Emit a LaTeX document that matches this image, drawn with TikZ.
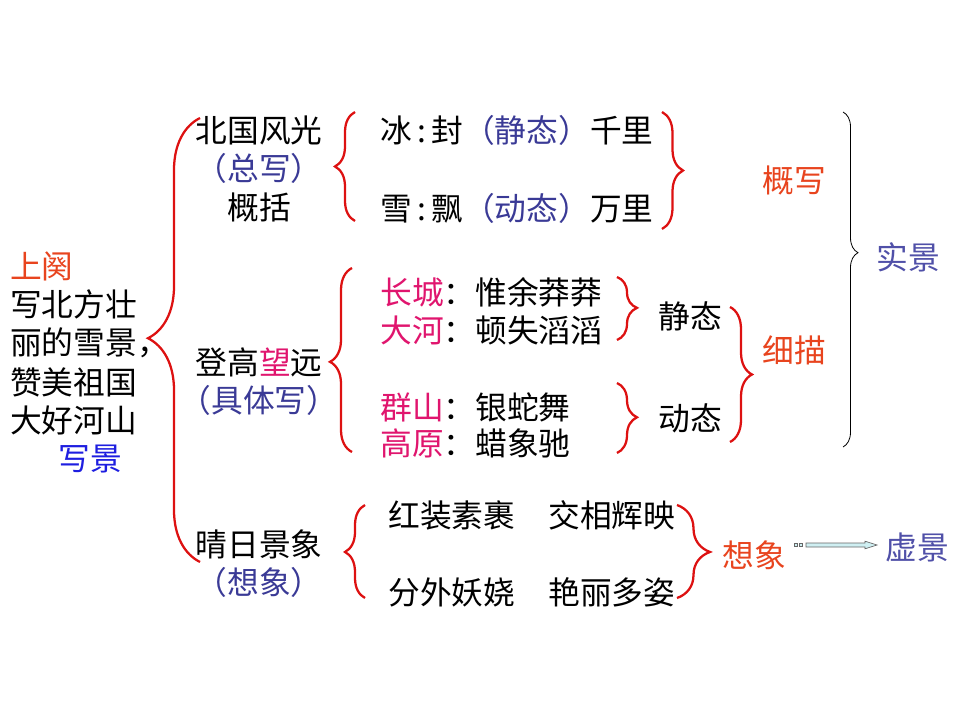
\documentclass[tikz,border=0pt]{standalone}
\usepackage{fontspec}
\setmainfont{Noto Sans CJK SC}
\usetikzlibrary{decorations.pathreplacing,calc}
\definecolor{bred}{HTML}{DD1111}
\definecolor{lred}{HTML}{E8441E}
\definecolor{navy}{HTML}{3A3A96}
\definecolor{lnavy}{HTML}{5050A8}
\definecolor{mag}{HTML}{E0156E}
\definecolor{wblue}{HTML}{1E1EE0}
\definecolor{arrfill}{HTML}{CFEFF2}
\begin{document}
\begin{tikzpicture}[x=0.75pt,y=-0.75pt,
  txt/.style={inner sep=0pt, font=\fontsize{23.8}{26}\selectfont},
  wtxt/.style={txt, anchor=west},
  rb/.style 2 args={draw=bred, line width=1.7pt, decorate, decoration={brace, amplitude=#1, aspect=#2}},
  kb/.style 2 args={draw=black, line width=0.6pt, decorate, decoration={brace, amplitude=#1, aspect=#2}},
  arr/.style={draw=black!60, line width=0.5pt, fill=arrfill}
]
\useasboundingbox (0,0) rectangle (960,720);

% left column
\node[wtxt, text=lred] (sq) at (10,266) {上阕};
\node[wtxt] (l1) at (10,304) {写北方壮};
\node[wtxt] (l2) at (10,343) {丽的雪景，};
\node[wtxt] (l3) at (10,382) {赞美祖国};
\node[wtxt] (l4) at (10,420) {大好河山};
\node[wtxt, text=wblue] (xj0) at (58,459) {写景};

% big brace
\draw[rb={39pt}{0.504}] (200,562) -- (200,118);

% second column
\node[txt] (bg) at (259,130) {北国风光};
\node[txt, text=navy] (zx) at (259,168) {（总写）};
\node[txt] (gk) at (259,207) {概括};
\node[txt] (dg) at (259,362) {登高\textcolor{mag}{望}远};
\node[txt, text=navy] (jt) at (259,400) {（具体写）};
\node[txt] (qr) at (259,544) {晴日景象};
\node[txt, text=navy] (xx0) at (259,582) {（想象）};

% group 1
\draw[rb={15pt}{0.5}] (355,221) -- (355,112);
\node[wtxt] (b1) at (380,130) {冰\,:\,封\textcolor{navy}{（静态）}千里};
\node[wtxt] (b2) at (380,208) {雪\,:\,飘\textcolor{navy}{（动态）}万里};
\draw[rb={15.75pt}{0.5}] (662,112) -- (662,229);
\node[wtxt, text=lred] (gx) at (762,180) {概写};

% group 2
\draw[rb={16.5pt}{0.49}] (352,452) -- (352,268);
\node[wtxt] (c1) at (380,292) {\textcolor{mag}{长城}：惟余莽莽};
\node[wtxt] (c2) at (380,330) {\textcolor{mag}{大河}：顿失滔滔};
\node[wtxt] (c3) at (380,407) {\textcolor{mag}{群山}：银蛇舞};
\node[wtxt] (c4) at (380,443) {\textcolor{mag}{高原}：蜡象驰};
\draw[rb={15pt}{0.49}] (617,277) -- (617,340);
\draw[rb={15pt}{0.49}] (617,383) -- (617,453);
\node[wtxt] (jtai) at (658,316) {静态};
\node[wtxt] (dtai) at (658,418) {动态};
\draw[rb={16.5pt}{0.5}] (730,307) -- (730,442);
\node[wtxt, text=lred] (xm) at (762,350) {细描};

% real scene brace
\draw[kb={11.25pt}{0.42}] (843,112) -- (843,447);
\node[wtxt, text=lnavy] (sj) at (876,257) {实景};

% group 3
\draw[rb={15pt}{0.495}] (365,598) -- (365,505);
\node[wtxt] (d1) at (388,515) {红装素裹};
\node[wtxt] (d2) at (548,515) {交相辉映};
\node[wtxt] (d3) at (388,592) {分外妖娆};
\node[wtxt] (d4) at (548,592) {艳丽多姿};
\draw[rb={24.75pt}{0.505}] (677,505) -- (677,598);
\node[wtxt, text=lred] (xx) at (722,555) {想象};
\node[wtxt, text=lnavy] (xj) at (885,547) {虚景};

% arrow
\coordinate (s1) at ($(xx.east)+(10,-10)$);
\coordinate (s2) at ($(s1)+(5,0)$);
\coordinate (as) at ($(s2)+(5,0)$);
\coordinate (ah) at ($(xj.west)+(-20,-2)$);
\coordinate (ae) at ($(xj.west)+(-8,-2)$);
\draw[arr] ($(s1)+(-1.8,-1.8)$) rectangle ($(s1)+(1.8,1.8)$);
\draw[arr] ($(s2)+(-1.8,-1.8)$) rectangle ($(s2)+(1.8,1.8)$);
\draw[arr] ($(as)+(0,-2)$) -- ($(ah)+(0,-2)$) -- ($(ah)+(0,-3.8)$) -- (ae) -- ($(ah)+(0,3.8)$) -- ($(ah)+(0,2)$) -- ($(as)+(0,2)$) -- cycle;
\end{tikzpicture}
\end{document}
